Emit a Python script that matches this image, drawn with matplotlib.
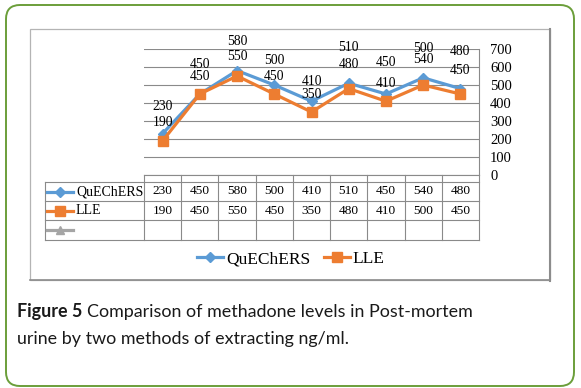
import numpy as np
import matplotlib.pyplot as plt
from matplotlib.patches import FancyBboxPatch, Rectangle
from matplotlib.lines import Line2D

series = ["QuEChERS", "LLE"]
quechers = [230, 450, 580, 500, 410, 510, 450, 540, 480]
lle = [190, 450, 550, 450, 350, 480, 410, 500, 450]
yticks = [0, 100, 200, 300, 400, 500, 600, 700]

# label offsets (px above the point), hand-tuned to the original layout
q_off = [27, 30, 29, 25, 20, 36, 31, 18, 37]
l_off = [18, 18, 20, 18, 17, 24, 18, 37, 23]

blue = "#5b9bd5"
orange = "#ed7d31"
grey = "#a5a5a5"
line_c = "#8a8a8a"
serif = "Liberation Serif"

W, H = 581, 388
fig = plt.figure(figsize=(W / 100, H / 100), dpi=100)

# overlay in pixel coords
ov = fig.add_axes([0, 0, 1, 1], zorder=0)
ov.set_xlim(0, W)
ov.set_ylim(H, 0)
ov.axis("off")

ov.add_patch(FancyBboxPatch((6, 5), 568, 381, boxstyle="round,pad=0,rounding_size=14",
                            fc="white", ec="#6b9e3a", lw=1.4))
ov.add_patch(Rectangle((30, 29), 520, 251, fc="none", ec="#b4b4b4", lw=0.9))
ov.plot([550, 550], [29, 281], color="#8c8c8c", lw=1.5)
ov.plot([30, 550], [280, 280], color="#8c8c8c", lw=1.2)

# plot area
px0, px1, py_top, py0 = 144, 479, 49, 175
n = len(quechers)
ax = fig.add_axes([px0 / W, 1 - py0 / H, (px1 - px0) / W, (py0 - py_top) / H], zorder=2)
ax.patch.set_alpha(0)
x = np.arange(n) + 0.5
ax.set_xlim(0, n)
ax.set_ylim(0, 700)
for s in ["top", "left", "bottom"]:
    ax.spines[s].set_visible(False)
ax.spines["right"].set_color(line_c)
ax.spines["right"].set_linewidth(0.8)
ax.set_yticks(yticks)
ax.yaxis.tick_right()
ax.tick_params(axis="y", length=0, pad=8, labelsize=10.5)
for t in ax.get_yticklabels():
    t.set_fontfamily(serif)
ax.set_xticks([])
ax.grid(axis="y", color=line_c, lw=0.8)
ax.set_axisbelow(True)

ax.plot(x, quechers, color=blue, lw=2.3, marker="D", ms=5.5, zorder=3)
ax.plot(x, lle, color=orange, lw=2.3, marker="s", ms=6.5, zorder=4)

for i in range(n):
    ax.annotate(str(quechers[i]), (x[i], quechers[i]), xytext=(0, q_off[i] * 0.72),
                textcoords="offset points", ha="center", va="center",
                fontsize=9.8, family=serif, zorder=5)
    ax.annotate(str(lle[i]), (x[i], lle[i]), xytext=(0, l_off[i] * 0.72),
                textcoords="offset points", ha="center", va="center",
                fontsize=9.8, family=serif, zorder=5)

# data table
cw = (px1 - px0) / n
tx0 = 45
rows = [182, 201, 220, 240]
ov.plot([px0, px1], [py0, py0], color=line_c, lw=0.8)
for r in rows:
    ov.plot([tx0, px1], [r, r], color=line_c, lw=0.8)
ov.plot([tx0, tx0], [rows[0], rows[-1]], color=line_c, lw=0.8)
for k in range(n + 1):
    xx = px0 + k * cw
    ov.plot([xx, xx], [py0, rows[-1]], color=line_c, lw=0.8)

row_vals = [quechers, lle]
row_style = [(blue, "D", 5), (orange, "s", 6.5), (grey, "^", 5.5)]
row_names = series + [""]
for j in range(3):
    yc = (rows[j] + rows[j + 1]) / 2
    c, m, ms = row_style[j]
    ov.plot([47, 73], [yc, yc], color=c, lw=2.3)
    ov.plot([60], [yc], color=c, marker=m, ms=ms)
    if row_names[j]:
        ov.text(76, yc, row_names[j], ha="left", va="center", fontsize=10, family=serif)
    if j < 2:
        for i, v in enumerate(row_vals[j]):
            ov.text(px0 + (i + 0.5) * cw, yc, str(v), ha="center", va="center",
                    fontsize=9.6, family=serif)

# legend
handles = [Line2D([], [], color=blue, lw=2.3, marker="D", ms=5.5),
           Line2D([], [], color=orange, lw=2.3, marker="s", ms=6.5)]
fig.legend(handles, series, loc="center", bbox_to_anchor=(291 / W, 1 - 259 / H), ncol=2,
           frameon=False, prop={"family": serif, "size": 12.5}, handlelength=1.5,
           handletextpad=0.15, columnspacing=0.8)

# caption
fig.canvas.draw()
r = fig.canvas.get_renderer()
cap_font = "Lato"
cap_size = 12.9
t1 = ov.text(17, 312, "Figure 5", ha="left", va="center", fontsize=cap_size,
             family=cap_font, weight="bold", color="#1a1a1a")
bb = t1.get_window_extent(renderer=r)
ov.text(bb.x1 + 5, 312, "Comparison of methadone levels in Post-mortem", ha="left",
        va="center", fontsize=cap_size, family=cap_font, color="#1a1a1a")
ov.text(17, 339, "urine by two methods of extracting ng/ml.", ha="left", va="center",
        fontsize=cap_size, family=cap_font, color="#1a1a1a")

fig.savefig("out.png", dpi=100)
